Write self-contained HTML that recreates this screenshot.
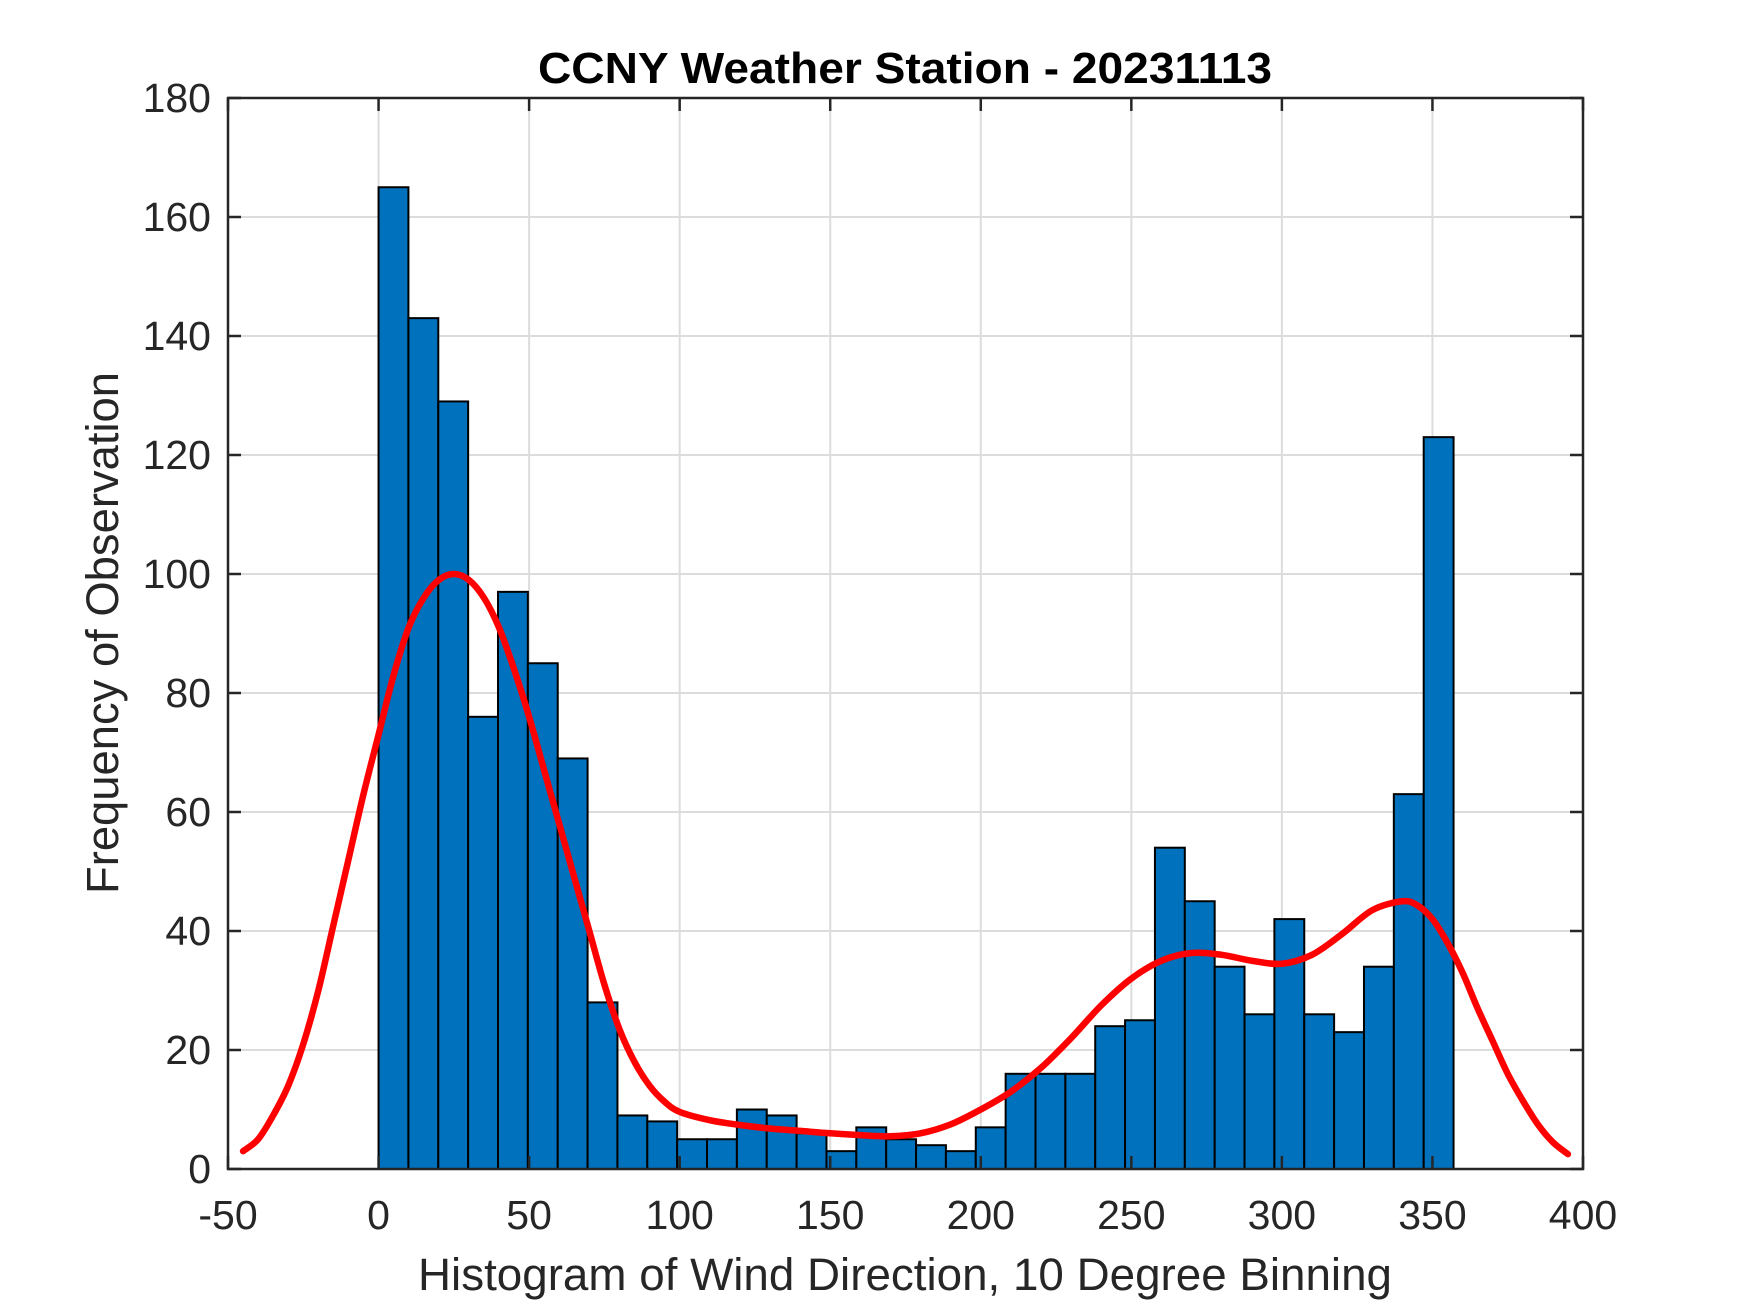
<!DOCTYPE html>
<html><head><meta charset="utf-8"><style>
html,body{margin:0;padding:0;background:#fff}
svg{display:block;font-family:"Liberation Sans",Arial,sans-serif}
</style></head><body>
<svg id="chart" width="1750" height="1313" viewBox="0 0 1750 1313" xmlns="http://www.w3.org/2000/svg">
<rect width="1750" height="1313" fill="#fff"/>
<g id="grid"></g>
<g id="bars"></g>
<path id="curve" fill="none" stroke="#ff0000" stroke-width="6.5" stroke-linejoin="round" stroke-linecap="round"/>
<rect x="228" y="98" width="1355" height="1071" fill="none" stroke="#262626" stroke-width="2.5"/>
<g id="ticks"></g>
<text x="905" y="83" text-anchor="middle" font-size="44" font-weight="bold" fill="#000" textLength="734" lengthAdjust="spacingAndGlyphs">CCNY Weather Station - 20231113</text>
<text x="905" y="1290" text-anchor="middle" font-size="45" fill="#262626" textLength="974" lengthAdjust="spacingAndGlyphs">Histogram of Wind Direction, 10 Degree Binning</text>
<text transform="translate(118,633) rotate(-90)" text-anchor="middle" font-size="45" fill="#262626" textLength="522" lengthAdjust="spacingAndGlyphs">Frequency of Observation</text>
</svg>
<script>
const binStart = 0;
const binWidth = 9.917;
const counts = [165,143,129,76,97,85,69,28,9,8,5,5,10,9,6,3,7,5,4,3,7,16,16,16,24,25,54,45,34,26,42,26,23,34,63,123];
const curveX = [-45,-40,-35,-30,-25,-20,-15,-10,-5,0,5,10,15,20,25,30,35,40,45,50,55,60,65,70,75,80,85,90,95,100,110,120,130,140,150,160,170,180,190,200,210,220,230,240,250,260,270,280,290,300,310,320,330,340,345,350,355,360,365,370,375,380,385,390,395];
const curveY = [3,5,9,14,21,30,41,52,63,73,83,91,96,99,100,99,96,91,84,76,67,58,49,40,31,23.5,18,14,11.3,9.6,8.2,7.4,6.8,6.4,6,5.7,5.5,6,7.5,10,13,17,22,27.5,32,35,36.3,36,35,34.5,36,39.5,43.5,45,44.3,42,38,33,27,21.5,16,11.5,7.5,4.5,2.5];
const xTicks = [-50,0,50,100,150,200,250,300,350,400];
const yTicks = [0,20,40,60,80,100,120,140,160,180];

const L=228,R=1583,T=98,B=1169;
const xMin=-50,xMax=400,yMin=0,yMax=180;
const sx=v=>L+(v-xMin)/(xMax-xMin)*(R-L);
const sy=v=>B-(v-yMin)/(yMax-yMin)*(B-T);
const NS='http://www.w3.org/2000/svg';
function mk(tag,attrs,parent){const e=document.createElementNS(NS,tag);for(const k in attrs)e.setAttribute(k,attrs[k]);parent.appendChild(e);return e;}
const grid=document.getElementById('grid'),ticks=document.getElementById('ticks'),bars=document.getElementById('bars');
xTicks.forEach(v=>{
  const x=sx(v);
  const g=mk('line',{x1:x,x2:x,y1:T,y2:B,stroke:'#dcdcdc','stroke-width':2},grid);
  
  
  mk('line',{x1:x,x2:x,y1:B,y2:B-13,stroke:'#262626','stroke-width':2.5},ticks);
  mk('line',{x1:x,x2:x,y1:T,y2:T+13,stroke:'#262626','stroke-width':2.5},ticks);
  const t=mk('text',{x:x,y:1229,'text-anchor':'middle','font-size':41,fill:'#262626'},ticks);
  t.textContent=v;
  
  
});
yTicks.forEach(v=>{
  const y=sy(v);
  const g=mk('line',{x1:L,x2:R,y1:y,y2:y,stroke:'#dcdcdc','stroke-width':2},grid);
  
  
  mk('line',{x1:L,x2:L+13,y1:y,y2:y,stroke:'#262626','stroke-width':2.5},ticks);
  mk('line',{x1:R,x2:R-13,y1:y,y2:y,stroke:'#262626','stroke-width':2.5},ticks);
  const t=mk('text',{x:211,y:y+14,'text-anchor':'end','font-size':41,fill:'#262626'},ticks);
  t.textContent=v;
  
  
});
counts.forEach((c,i)=>{
  const e0=binStart+i*binWidth;
  const x0=sx(e0),x1=sx(e0+binWidth);
  const r=mk('rect',{x:x0,y:sy(c),width:x1-x0,height:sy(0)-sy(c),fill:'#0072BD',stroke:'#000','stroke-width':2},bars);
  
  
});
const P=curveX.map((x,i)=>[sx(x),sy(curveY[i])]);
let d='M'+P[0][0]+','+P[0][1];
for(let i=0;i<P.length-1;i++){
  const p0=P[i-1]||P[i],p1=P[i],p2=P[i+1],p3=P[i+2]||P[i+1];
  const c1=[p1[0]+(p2[0]-p0[0])/6,p1[1]+(p2[1]-p0[1])/6];
  const c2=[p2[0]-(p3[0]-p1[0])/6,p2[1]-(p3[1]-p1[1])/6];
  d+=' C'+c1[0]+','+c1[1]+' '+c2[0]+','+c2[1]+' '+p2[0]+','+p2[1];
}
document.getElementById('curve').setAttribute('d',d);
</script>
</body></html>
